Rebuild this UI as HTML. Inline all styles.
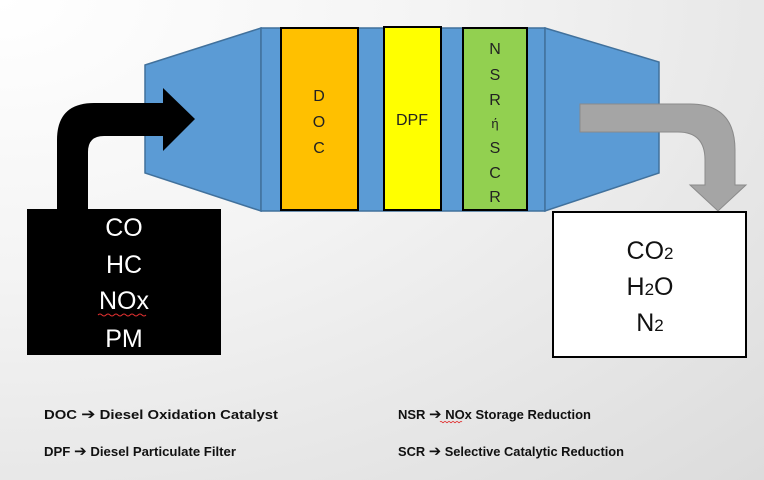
<!DOCTYPE html>
<html><head><meta charset="utf-8"><style>
html,body{margin:0;padding:0;width:764px;height:480px;overflow:hidden}
body{background:radial-gradient(ellipse at 0% 0%, #ffffff 0%, #f4f4f4 40%, #dcdcdc 100%);font-family:"Liberation Sans",sans-serif}
svg{position:absolute;left:0;top:0}
</style></head><body>
<svg width="764" height="480" viewBox="0 0 764 480" font-family="Liberation Sans, DejaVu Sans, sans-serif">
<polygon points="145,65 261,28 261,211 145,173" fill="#5B9BD5" stroke="#41719C" stroke-width="1.5"/>
<rect x="261" y="28" width="284" height="183" fill="#5B9BD5" stroke="#41719C" stroke-width="1.5"/>
<polygon points="545,28 659,62 659,173 545,211" fill="#5B9BD5" stroke="#41719C" stroke-width="1.5"/>
<rect x="281" y="28" width="77" height="182" fill="#FFC000" stroke="#000" stroke-width="2"/>
<rect x="384" y="27" width="57" height="183" fill="#FFFF00" stroke="#000" stroke-width="2"/>
<rect x="463" y="28" width="64" height="182" fill="#92D050" stroke="#000" stroke-width="2"/>
<g font-size="16" fill="#222" text-anchor="middle">
<text x="319" y="101">D</text><text x="319" y="127">O</text><text x="319" y="153">C</text>
<text x="412" y="125">DPF</text>
<text x="495" y="54">N</text><text x="495" y="80">S</text><text x="495" y="105">R</text><text x="495" y="128" font-size="13">ή</text><text x="495" y="153">S</text><text x="495" y="178">C</text><text x="495" y="202">R</text>
</g>
<path d="M57,210 L57,140 Q57,103 94,103 L163,103 L163,88 L195,119 L163,151 L163,136 L104,136 Q88,136 88,152 L88,210 Z" fill="#000"/>
<path d="M580,104 L690,104 Q735,104 735,150 L735,185 L746,185 L718,211 L690,185 L705,185 L705,160 Q705,132 678,132 L580,132 Z" fill="#A5A5A5" stroke="#8a8a8a" stroke-width="1"/>
<rect x="27" y="209" width="194" height="146" fill="#000"/>
<g font-size="25" fill="#fff" text-anchor="middle">
<text x="124" y="236">CO</text><text x="124" y="273">HC</text><text x="124" y="309">NOx</text><text x="124" y="347">PM</text>
</g>
<path d="M98,315 q2,-2 4,0 t4,0 t4,0 t4,0 t4,0 t4,0 t4,0 t4,0 t4,0 t4,0 t4,0 t4,0" stroke="#e03030" fill="none" stroke-width="1"/>
<rect x="553" y="212" width="193" height="145" fill="#fff" stroke="#000" stroke-width="2"/>
<g font-size="25" fill="#111" text-anchor="middle">
<text x="650" y="259">CO<tspan font-size="17">2</tspan></text>
<text x="650" y="295">H<tspan font-size="17">2</tspan>O</text>
<text x="650" y="331">N<tspan font-size="17">2</tspan></text>
</g>
<g font-size="13" font-weight="bold" fill="#111">
<text x="44" y="419" textLength="234" lengthAdjust="spacingAndGlyphs">DOC <tspan font-size="15">➔</tspan> Diesel Oxidation Catalyst</text>
<text x="44" y="456" textLength="192" lengthAdjust="spacingAndGlyphs">DPF <tspan font-size="15">➔</tspan> Diesel Particulate Filter</text>
<text x="398" y="419" textLength="193" lengthAdjust="spacingAndGlyphs">NSR <tspan font-size="15">➔</tspan> NOx Storage Reduction</text>
<text x="398" y="456" textLength="226" lengthAdjust="spacingAndGlyphs">SCR <tspan font-size="15">➔</tspan> Selective Catalytic Reduction</text>
</g>
<path d="M440,422 q1,-1.5 2,0 t2,0 t2,0 t2,0 t2,0 t2,0 t2,0 t2,0 t2,0 t2,0 t2,0" stroke="#e03030" fill="none" stroke-width="0.8"/>
</svg>
</body></html>
